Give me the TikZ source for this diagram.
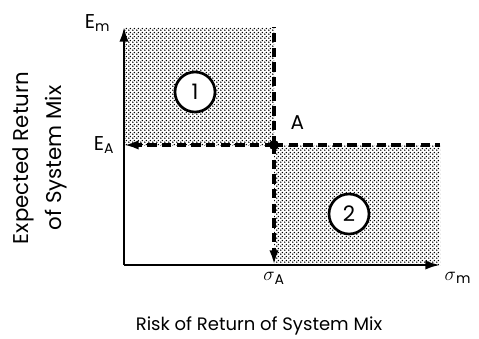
\documentclass[tikz,border=0pt]{standalone}
\usepackage{fontspec}
\setmainfont{Poppins}
\usepackage{tikz}
\usetikzlibrary{positioning,arrows.meta,patterns}

\pgfdeclarepatternformonly{halftone}{\pgfpointorigin}{\pgfpoint{3pt}{3pt}}{\pgfpoint{3pt}{3pt}}{
  \pgfpathcircle{\pgfpoint{0.75pt}{0.75pt}}{0.7pt}
  \pgfpathcircle{\pgfpoint{2.25pt}{2.25pt}}{0.7pt}
  \pgfusepath{fill}
}

\tikzset{
  axis/.style={line width=1.8pt,-{Latex[length=11pt,width=7pt]}},
  brk/.style={line width=2.4pt,dash pattern=on 7pt off 4pt},
  dots/.style={pattern=halftone,pattern color=black},
  num/.style={circle,draw,fill=white,line width=2pt,minimum size=30pt,inner sep=0pt,font=\fontsize{16}{16}\selectfont},
  lab/.style={font=\fontsize{15}{17}\selectfont},
}

\begin{document}
\begin{tikzpicture}[x=0.75pt,y=-0.75pt]
  \useasboundingbox (0,0) rectangle (479,339);
  \coordinate (O) at (124,265);
  \coordinate (Em) at (124,27);
  \coordinate (EA) at (124,145);
  \coordinate (A) at (274,145);
  \coordinate (top) at (274,27);
  \coordinate (rgt) at (440,145);
  \coordinate (sA) at (274,265);
  \coordinate (sm) at (440,265);
  % shaded regions
  \fill[dots] (Em) rectangle (A);
  \fill[dots] (A) rectangle (sm);
  % axes
  \draw[axis] (O) -- (Em);
  \draw[axis] (O) -- (sm);
  % dashed lines through A
  \draw[brk] (A) -- (top);
  \draw[brk] (A) -- (rgt);
  \draw[brk,-{Latex[length=11pt,width=7pt]}] (A) -- (EA);
  \draw[brk,-{Latex[length=11pt,width=7pt]}] (A) -- (sA);
  \fill (A) circle (5);
  \node[num] (r1) at (195,92) {1};
  \node[num] (r2) at (349,214) {2};
  % labels
  \node[lab,anchor=south east] (lEm) at (115,36) {E\textsubscript{m}};
  \node[lab,anchor=south east] (lEA) at (119,158) {E\textsubscript{A}};
  \node[lab,anchor=south west] (lA) at (286,134) {A};
  \node[lab,anchor=north] (lsA) at (274,268) {$\sigma$\textsubscript{A}};
  \node[lab,anchor=north west] (lsm) at (440,268) {$\sigma$\textsubscript{m}};
  \node[rotate=90,align=center,font=\fontsize{16}{25}\selectfont] (ylab) at (40,158) {Expected Return\\of System Mix};
  \node[font=\fontsize{13.5}{15}\selectfont] (xlab) at (259,326) {Risk of Return of System Mix};
\end{tikzpicture}
\end{document}
